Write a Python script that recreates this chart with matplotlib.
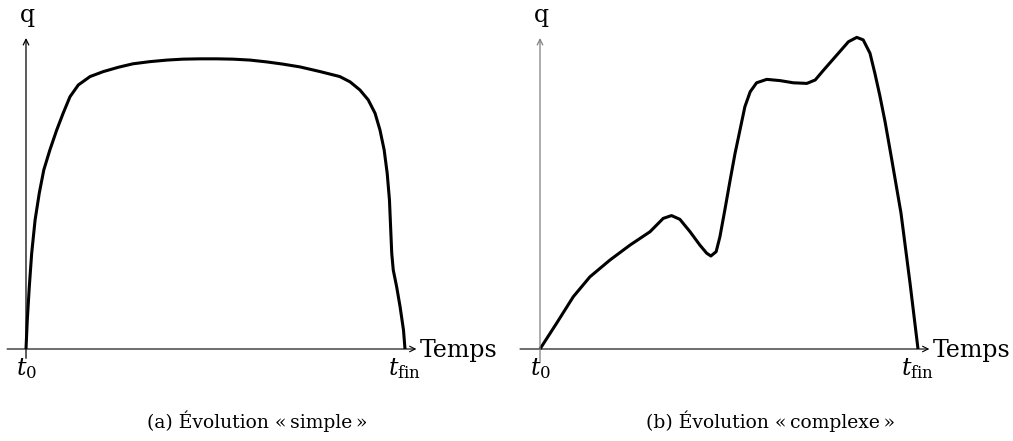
import matplotlib
matplotlib.use("Agg")
import matplotlib.pyplot as plt

# Evolution "simple" : temps (0 = t0, 100 = tfin) et q (0..100)
simple_t = [0, 0.34, 0.87, 1.5, 2.4, 3.5, 4.7, 6.3, 8.1, 9.8, 11.6, 13.8, 16.9,
            20.4, 24.4, 28.2, 32.7, 37.2, 41.4, 45.9, 50.4, 54.6, 59.1, 63.6,
            67.8, 72.3, 77.6, 80.2, 82.8, 85.5, 88.1, 90.3, 92.1, 93.4, 94.5,
            95.3, 95.9, 96.2, 96.5, 96.9, 97.8, 98.7, 99.6, 100]
simple_q = [0, 9.3, 20.0, 30.8, 41.5, 50.1, 57.6, 64.0, 70.4, 75.8, 81.1, 84.9,
            87.6, 89.2, 90.6, 91.7, 92.4, 92.9, 93.2, 93.3, 93.3, 93.2, 92.9,
            92.3, 91.6, 90.7, 89.2, 88.4, 87.6, 85.9, 83.3, 80.1, 75.8, 70.4,
            64.0, 56.5, 47.9, 39.3, 30.8, 25.4, 20.0, 13.6, 6.1, 0]

# Evolution "complexe"
complex_t = [0, 4.4, 8.8, 13.2, 18.5, 23.8, 29.1, 32.6, 34.8, 37.0, 39.7, 42.3,
             44.1, 45.2, 46.6, 47.6, 48.9, 50.3, 51.6, 52.9, 54.2, 55.6, 57.3,
             60.0, 63.5, 67.0, 70.6, 72.8, 74.9, 78.5, 81.6, 83.8, 85.5, 87.3,
             88.6, 89.9, 91.3, 93.0, 95.5, 97.9, 100]
complex_q = [0, 8.3, 16.8, 23.2, 28.6, 33.4, 37.7, 42.0, 42.9, 41.7, 37.7, 33.4,
             30.8, 29.9, 31.3, 36.1, 44.7, 54.3, 62.9, 70.4, 77.9, 82.7, 85.6,
             86.7, 86.3, 85.6, 85.4, 86.5, 89.5, 94.5, 98.8, 100.2, 99.4, 95.1,
             88.6, 81.5, 73.0, 61.3, 43.7, 21.1, 0]

captions = ["(a) Évolution «\u2009simple\u2009»", "(b) Évolution «\u2009complexe\u2009»"]

plt.rcParams['font.family'] = ['DejaVu Serif']
plt.rcParams['mathtext.fontset'] = 'dejavuserif'

W, H = 1013, 441
fig = plt.figure(figsize=(W / 100, H / 100), dpi=100)


def make_axes(x0, x1, ybase, ytop):
    ax = fig.add_axes([x0 / W, 1 - ybase / H, (x1 - x0) / W, (ybase - ytop) / H])
    ax.set_xlim(0, 100)
    ax.set_ylim(0, 100)
    ax.axis('off')
    return ax


panels = [
    (make_axes(26, 405, 349, 38), simple_t, simple_q, 'black', -5.0, -3),
    (make_axes(540, 918, 349, 38), complex_t, complex_q, '#808080', -5.3, -4),
]

for (ax, t, q, ycol, xstart, ystart), cap, cx in zip(panels, captions, [257, 770]):
    # axes with arrows
    ax.annotate('', xy=(103, 0), xytext=(xstart, 0), annotation_clip=False,
                arrowprops=dict(arrowstyle='->', lw=0.8, color='black',
                                shrinkA=0, shrinkB=0))
    ax.annotate('', xy=(0, 100), xytext=(0, ystart), annotation_clip=False,
                arrowprops=dict(arrowstyle='->', lw=0.9, color=ycol,
                                shrinkA=0, shrinkB=0))
    ax.plot(t, q, color='black', lw=2.2, solid_joinstyle='round',
            solid_capstyle='butt', clip_on=False)
    ax.text(103.8, -2.6, 'Temps', fontsize=17, ha='left', va='baseline')
    ax.text(0.5, 105.3, 'q', fontsize=17, ha='center', va='baseline')
    ax.text(0, -8.4, '$t_0$', fontsize=17, ha='center', va='baseline')
    ax.text(100, -8.4, r'$t_{\mathrm{fin}}$', fontsize=17, ha='center', va='baseline')
    fig.text(cx / W, 1 - 428 / H, cap, fontsize=13.5, ha='center', va='baseline')

fig.savefig('out.png', dpi=100)
